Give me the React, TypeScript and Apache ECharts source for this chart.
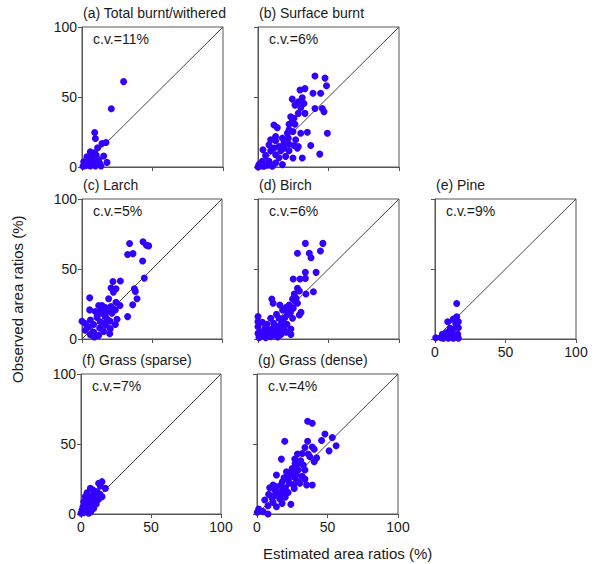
import React, { useEffect, useRef } from "react";
import * as echarts from "echarts";

const axisTicks = [0, 50, 100];
const panelTitles = [
  "(a) Total burnt/withered",
  "(b) Surface burnt",
  "(c) Larch",
  "(d) Birch",
  "(e) Pine",
  "(f) Grass (sparse)",
  "(g) Grass (dense)",
];
const cvLabels = ["c.v.=11%", "c.v.=6%", "c.v.=5%", "c.v.=6%", "c.v.=9%", "c.v.=7%", "c.v.=4%"];
const xAxisTitle = "Estimated area ratios (%)";
const yAxisTitle = "Observed area ratios (%)";

const dataA: number[][] = [
  [29.5, 61], [20.8, 41.6], [9, 24.6], [9.5, 20.3], [17, 17.5], [14.2, 16.8], [11.1, 13.7],
  [5.9, 10.9], [8.7, 10.2], [15.4, 7.8], [17.7, 3.3], [3.5, 7.3], [7.1, 6.1], [11.8, 5.4],
  [1.2, 3.8], [4.7, 2.6], [8.3, 2.1], [12.5, 2.6], [2.4, 0.9], [5.9, 0.7], [9.5, 0.7],
  [0.7, 0.5], [3.5, 5], [10, 8.5], [13.5, 0.7], [7, 9.2], [6, 4], [10.5, 3], [2, 2], [4, 1.5],
];
const dataB: number[][] = [
  [40.4, 65], [47.5, 63.5], [48.6, 58], [29.8, 55], [33.3, 56], [39, 52.7], [44.4, 52.7],
  [24.3, 48.5], [31.4, 49.4], [28.6, 46.6], [32.6, 45.4], [26.2, 44.2], [30.3, 42.3],
  [40.4, 41.8], [45.6, 41.8], [46.8, 39.5], [28.6, 38.3], [33.3, 38.3], [23.2, 35.9],
  [25.5, 34.8], [24.3, 32.4], [22, 30.5], [26.2, 30.5], [11.3, 30], [13.7, 28.1], [22, 26.5],
  [24.8, 25.3], [20.8, 24.1], [30.3, 24.1], [35, 24.8], [49.2, 24.1], [12.5, 21.7],
  [17.3, 20.6], [21.5, 20.6], [9, 19.4], [12.5, 18.7], [26.7, 19.4], [18.4, 17], [22, 16.3],
  [25.5, 15.4], [28.6, 14.7], [37.4, 15.4], [7.8, 15.8], [14.9, 14.7], [11.3, 13.5],
  [18.4, 13.5], [27.9, 13.5], [3.5, 12.3], [9, 11.6], [16.1, 11.6], [22, 11.6], [12.5, 8.7],
  [19.6, 7.6], [24.8, 6.4], [31.4, 6.4], [43.8, 9.2], [14.9, 6.6], [5.4, 8.3], [3.1, 4],
  [7.8, 4], [12.5, 2.8], [17.3, 1.7], [0.7, 1.7], [4.3, 0.5], [10.2, 0.5], [1.9, 2.8],
  [6.6, 1.2], [0, 0], [2.5, 0.8], [8.5, 1.5],
];
const dataC: number[][] = [
  [43.6, 69.4], [34, 68.2], [46, 67], [47.6, 66.5], [32.6, 60.3], [36.4, 61], [43.3, 55.7],
  [44.5, 43.5], [22.1, 41.1], [27.4, 41.4], [20.7, 36.4], [24.3, 35.9], [22.4, 33.5],
  [37.4, 35.9], [38.1, 34], [5.5, 29.4], [39.3, 28.7], [19, 28.7], [24.3, 26.3], [27.1, 23.9],
  [36.2, 24.4], [11.9, 23.9], [14.3, 23.9], [16.7, 22.5], [20.7, 23.2], [23.8, 20.8],
  [5.5, 20.8], [9.5, 19.6], [13.1, 20.8], [17.9, 19.6], [14.3, 18.4], [21.4, 18.4], [16.7, 16],
  [32.6, 16], [10.7, 15.3], [6, 13.6], [25, 14.1], [20, 12.7], [13.1, 12.3], [0, 12.7],
  [2.4, 11], [8.3, 10.3], [16.7, 9.8], [23.8, 10.3], [4.8, 8.6], [12.6, 7.9], [20.2, 7.4],
  [2.4, 6.2], [8.3, 4.9], [15.5, 5.4], [19.8, 3.8], [8.8, 1.4], [6, 3.1], [11.9, 2.6],
  [18, 14], [11, 17], [15, 11],
];
const dataD: number[][] = [
  [33.6, 68.3], [46, 68.3], [28, 61.2], [44.3, 62.9], [36.4, 61.2], [37.6, 58.1], [33.6, 47.6],
  [41.2, 47.6], [25, 42.9], [29.8, 42.9], [33.6, 43.3], [28, 36.2], [29.3, 34.3], [39.3, 33.8],
  [34, 32.1], [25.7, 32.1], [24.5, 28.6], [26.4, 26.7], [9.8, 28.6], [10.7, 25.5], [15.5, 24.3],
  [22.1, 24.3], [25, 21.9], [19.8, 22.4], [30.5, 19], [29.3, 17.1], [17.4, 20.7], [13.1, 17.6],
  [20.9, 17.6], [9, 14.8], [14.9, 14.8], [19, 15.2], [24.5, 14.8], [0, 16], [0, 12.4], [0, 8.8],
  [3.1, 11.9], [6.4, 10.5], [11.1, 11.2], [15.8, 10], [20.5, 10.5], [5, 7.6], [10.2, 7.1],
  [13.8, 6.4], [18.6, 6.4], [23.3, 7.1], [1.9, 5.2], [7.9, 4.8], [12.6, 4], [16.2, 3.3],
  [23.3, 3.3], [3.1, 2.4], [9, 1.7], [0.7, 1], [5.5, 1], [11.4, 2.9], [19.8, 4.8], [28, 25.5],
  [0, 4], [4, 5], [8, 3], [14, 1.5], [17, 12.5], [21, 20], [23, 19], [27, 29], [12, 9],
  [7, 6.5], [16, 8.5], [3, 3.5], [10, 5.5], [18, 11],
];
const dataE: number[][] = [
  [15.4, 25.4], [15.4, 15.9], [13, 14.2], [9, 12.3], [16.6, 12.3], [16.6, 8.1], [10.7, 7.6],
  [13, 7.1], [0.5, 0.9], [5.2, 3.3], [8.3, 4.7], [11.8, 4], [16.1, 3.3], [5.9, 0.5], [9.5, 0.5],
  [13, 0.5], [16.6, 0.5], [7.1, 2.4], [14.2, 1.7], [10.7, 1.7], [4.3, 0.9], [14.7, 11.1],
];
const dataF: number[][] = [
  [15, 23.1], [12.6, 21.9], [13.8, 20], [17.4, 18.3], [6.7, 18.3], [8.6, 17.1], [11.4, 16],
  [4.3, 15.2], [9.5, 14.3], [13.3, 14.3], [6.2, 12.9], [3.1, 12.4], [9, 11.2], [12.6, 10.5],
  [4.8, 10], [1.9, 8.8], [7.1, 8.1], [10.9, 7.1], [3.8, 6.4], [1.4, 5.2], [6.2, 4.8], [9, 4],
  [0.7, 2.9], [4.3, 2.4], [7.1, 1.7], [1.9, 1], [0, 0.5], [5.5, 0.5], [10.2, 9.3], [15, 12.4],
  [8, 6], [3, 3.5],
];
const dataG: number[][] = [
  [35.9, 66.3], [39.2, 64.8], [19.7, 52], [48.2, 57.2], [53.4, 54.6], [56.1, 48.7], [35.9, 52],
  [45.8, 52.5], [34, 47.5], [39.2, 47.9], [51.1, 45.1], [40.6, 46.3], [28.7, 42.8],
  [32.1, 43.2], [36.3, 42.8], [26.8, 39.2], [37.5, 40.9], [42.3, 40.1], [17.3, 39.2],
  [30.4, 36.8], [28, 34.4], [40.6, 37.3], [32.8, 34.9], [24.9, 32.5], [29.2, 31.4], [34, 31.4],
  [13.8, 27.8], [21.6, 28.3], [24.5, 27.8], [19.2, 25.9], [26.8, 25.9], [34, 24.9],
  [22.1, 24.2], [30.4, 21.9], [35.2, 20.7], [39.2, 20.7], [16.9, 20.7], [11.4, 20.7], [9, 18.8],
  [13.8, 19.5], [20.2, 18.8], [26.4, 18.3], [12.6, 17.1], [17.3, 15.9], [22.1, 15.4], [8.3, 14],
  [14.5, 13.5], [19.2, 13.1], [10.7, 11.2], [16.2, 10.7], [24, 6.9], [5.5, 10], [11.4, 8.3],
  [17.8, 7.6], [7.8, 5.9], [13.8, 5.2], [1.2, 3.6], [4.3, 1.7], [7.8, 0], [0.2, 1.2],
  [29.2, 23.2], [20.9, 30.2], [27, 36], [31, 38], [25, 30], [28, 28], [23, 22], [18, 17],
  [15, 15], [12, 13], [20, 12], [26, 21], [32, 27], [18, 23],
];

const panelData = [dataA, dataB, dataC, dataD, dataE, dataF, dataG];
const identityLine: number[][] = [[0, 0], [100, 100]];

// layout of each panel: [left, top, width, height, showYLabels, showXLabels]
const layout: [number, number, number, number, boolean, boolean][] = [
  [82, 27, 141, 140, true, false],
  [258, 27, 141, 140, false, false],
  [82, 199, 140, 140, true, false],
  [258, 199, 141, 140, false, false],
  [435, 199, 141, 140, false, true],
  [81, 374, 140, 140, true, true],
  [257, 374, 141, 140, false, true],
];

const FONT = "Liberation Sans, Arial, Helvetica, sans-serif";
const FRAME = "#555555";
const POINT = "#3300ff";

export default function App() {
  const ref = useRef<HTMLDivElement>(null);
  useEffect(() => {
    if (!ref.current) return;
    const chart = echarts.init(ref.current, undefined, { renderer: "svg" });
    const grid: any[] = [];
    const xAxis: any[] = [];
    const yAxis: any[] = [];
    const series: any[] = [];
    const graphic: any[] = [];
    layout.forEach(([l, t, w, h, showY, showX], i) => {
      grid.push({
        left: l, top: t, width: w, height: h,
        show: true, borderColor: FRAME, borderWidth: 1, backgroundColor: "transparent",
      });
      const axisCommon = {
        gridIndex: i, type: "value", min: axisTicks[0], max: axisTicks[2], interval: 50,
        splitLine: { show: false },
        axisLine: { show: true, lineStyle: { color: FRAME, width: 1 } },
        axisTick: { show: true, length: 4, lineStyle: { color: FRAME } },
      };
      xAxis.push({
        ...axisCommon,
        axisLabel: { show: showX, fontSize: 14, color: "#1a1a1a", fontFamily: FONT, margin: 6 },
      });
      yAxis.push({
        ...axisCommon,
        axisLabel: { show: showY, fontSize: 14, color: "#1a1a1a", fontFamily: FONT, margin: 5 },
      });
      series.push({
        type: "line", xAxisIndex: i, yAxisIndex: i, data: identityLine, symbol: "none",
        silent: true, lineStyle: { color: "#444", width: 1 }, z: 2,
      });
      series.push({
        type: "scatter", xAxisIndex: i, yAxisIndex: i, data: panelData[i],
        symbolSize: 7, itemStyle: { color: POINT, opacity: 1 }, z: 3,
      });
      graphic.push({
        type: "text", left: l + 1, top: t - 21,
        style: { text: panelTitles[i], fontSize: 14, fontFamily: FONT, fill: "#1a1a1a" },
      });
      graphic.push({
        type: "text", left: l + 11, top: t + 5,
        style: { text: cvLabels[i], fontSize: 14, fontFamily: FONT, fill: "#1a1a1a" },
      });
    });
    graphic.push({
      type: "text", left: 263, top: 546,
      style: { text: xAxisTitle, fontSize: 15, fontFamily: FONT, fill: "#1a1a1a" },
    });
    graphic.push({
      type: "text", x: 10, y: 383, rotation: Math.PI / 2,
      style: { text: yAxisTitle, fontSize: 15, fontFamily: FONT, fill: "#1a1a1a" },
    });
    chart.setOption({
      animation: false,
      backgroundColor: "#ffffff",
      grid, xAxis, yAxis, series, graphic,
    });
    return () => chart.dispose();
  }, []);
  return (
    <div
      ref={ref}
      style={{ position: "fixed", left: 0, top: 0, width: 594, height: 564 }}
    />
  );
}
